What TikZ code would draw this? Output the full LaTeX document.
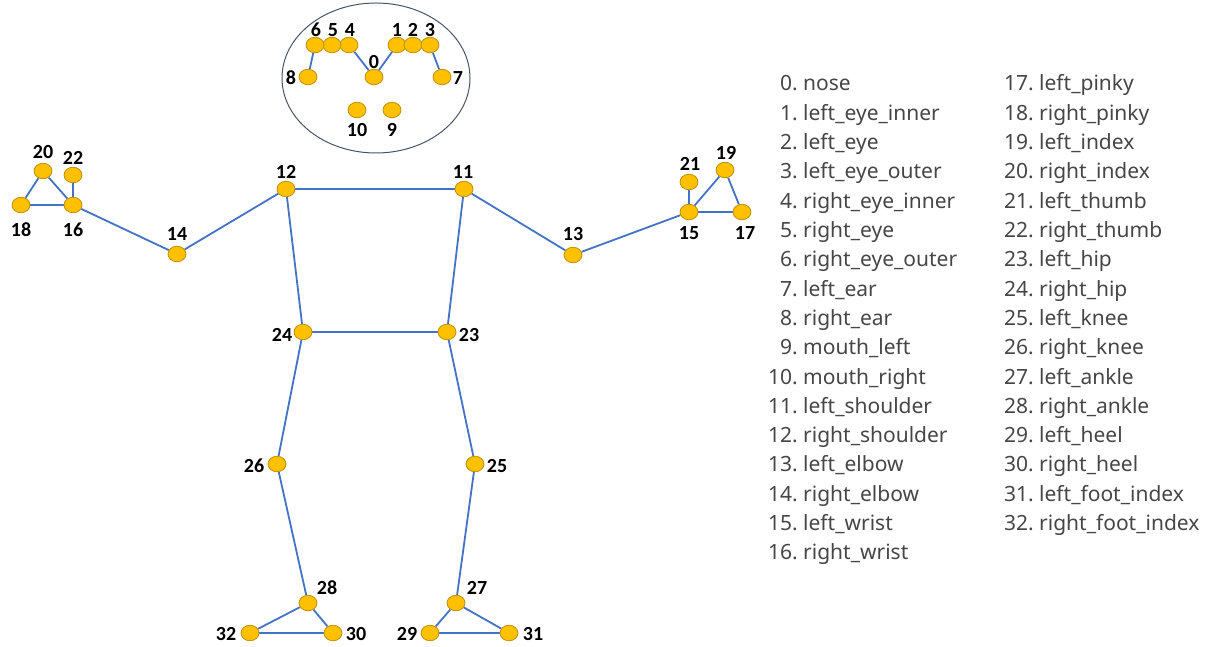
\documentclass[tikz,border=0pt]{standalone}
\usepackage{fontspec}
\setmainfont{Noto Sans}
\newfontfamily\numfont{Carlito}
\usetikzlibrary{shapes.geometric,backgrounds}
\definecolor{jointfill}{RGB}{255,192,0}
\definecolor{jointline}{RGB}{191,144,0}
\definecolor{bone}{RGB}{68,114,196}
\definecolor{headline}{RGB}{68,84,106}
\definecolor{legendtext}{RGB}{70,70,70}
\tikzset{
  joint/.style={ellipse,draw=jointline,fill=jointfill,line width=0.8pt,
    minimum width=18pt,minimum height=15.5pt,inner sep=0pt},
  lab/.style={font=\numfont\bfseries\fontsize{20}{20}\selectfont,inner sep=0pt},
  bonestyle/.style={draw=bone,line width=1.8pt},
  legnum/.style={anchor=base east,inner sep=0pt,text=legendtext,
    font=\fontsize{21}{21}\selectfont},
  legname/.style={anchor=base west,inner sep=0pt,text=legendtext,
    font=\fontsize{21}{21}\selectfont},
}
\begin{document}
\begin{tikzpicture}[x=1pt,y=-1pt]
\useasboundingbox (0,0) rectangle (1213,647);

% head outline
\node[ellipse,draw=headline,line width=1pt,minimum width=188pt,minimum height=150pt] (head) at (376,78) {};

% joints
\foreach \n/\x/\y in {0/374/77, 1/397/45, 2/413/45, 3/430/45, 4/349/45, 5/332/45,
  6/315/45, 7/442/77, 8/308/77, 9/392/110, 10/357/110,
  11/464/189, 12/286/189, 13/573/255, 14/177/254, 15/689/212, 16/73/205,
  17/742/212, 18/21/205, 19/725/170, 20/43/171, 21/689/182, 22/73/175,
  23/447/332, 24/303/332, 25/475/464, 26/277/464, 27/456/603, 28/308/603,
  29/430/633, 30/333/633, 31/509/633, 32/250/633}
  \node[joint] (j\n) at (\x,\y) {};

% joint numbers
\foreach \n/\x/\y in {0/374/62, 1/397/30, 2/413/30, 3/430/30, 4/350/30, 5/333/30,
  6/316/30, 7/458/78, 8/291/78, 9/392/130, 10/357/130,
  11/463/172, 12/286/172, 13/573/234, 14/177/234, 15/689/233, 16/73/230,
  17/745/233, 18/21/230, 19/726/153, 20/43/152, 21/690/164, 22/73/158,
  23/469/335, 24/282/335, 25/497/466, 26/254/466, 27/477/588, 28/327/588,
  29/407/634, 30/356/634, 31/533/634, 32/226/634}
  \node[lab] (t\n) at (\x,\y) {\n};

% skeleton
\begin{pgfonlayer}{background}
\foreach \a/\b in {6/5, 5/4, 4/0, 0/1, 1/2, 2/3, 6/8, 3/7,
  12/11, 12/14, 14/16, 16/18, 18/20, 20/16, 16/22,
  11/13, 13/15, 15/17, 17/19, 19/15, 15/21,
  12/24, 11/23, 24/23, 24/26, 23/25,
  26/28, 28/32, 28/30, 32/30, 25/27, 27/29, 27/31, 29/31}
  \draw[bonestyle] (j\a) -- (j\b);
\end{pgfonlayer}

% legend
\foreach \i/\name in {0/nose, 1/left\_eye\_inner, 2/left\_eye, 3/left\_eye\_outer,
  4/right\_eye\_inner, 5/right\_eye, 6/right\_eye\_outer, 7/left\_ear,
  8/right\_ear, 9/mouth\_left, 10/mouth\_right, 11/left\_shoulder,
  12/right\_shoulder, 13/left\_elbow, 14/right\_elbow, 15/left\_wrist,
  16/right\_wrist}{
  \node[legnum] (n\i) at (798,{91+29.3*\i}) {\i.};
  \node[legname] (m\i) at (803,{91+29.3*\i}) {\name};
}
\foreach \i/\name in {17/left\_pinky, 18/right\_pinky, 19/left\_index,
  20/right\_index, 21/left\_thumb, 22/right\_thumb, 23/left\_hip,
  24/right\_hip, 25/left\_knee, 26/right\_knee, 27/left\_ankle,
  28/right\_ankle, 29/left\_heel, 30/right\_heel, 31/left\_foot\_index,
  32/right\_foot\_index}{
  \node[legnum] (n\i) at (1034,{91+29.3*(\i-17)}) {\i.};
  \node[legname] (m\i) at (1039,{91+29.3*(\i-17)}) {\name};
}
\end{tikzpicture}
\end{document}
